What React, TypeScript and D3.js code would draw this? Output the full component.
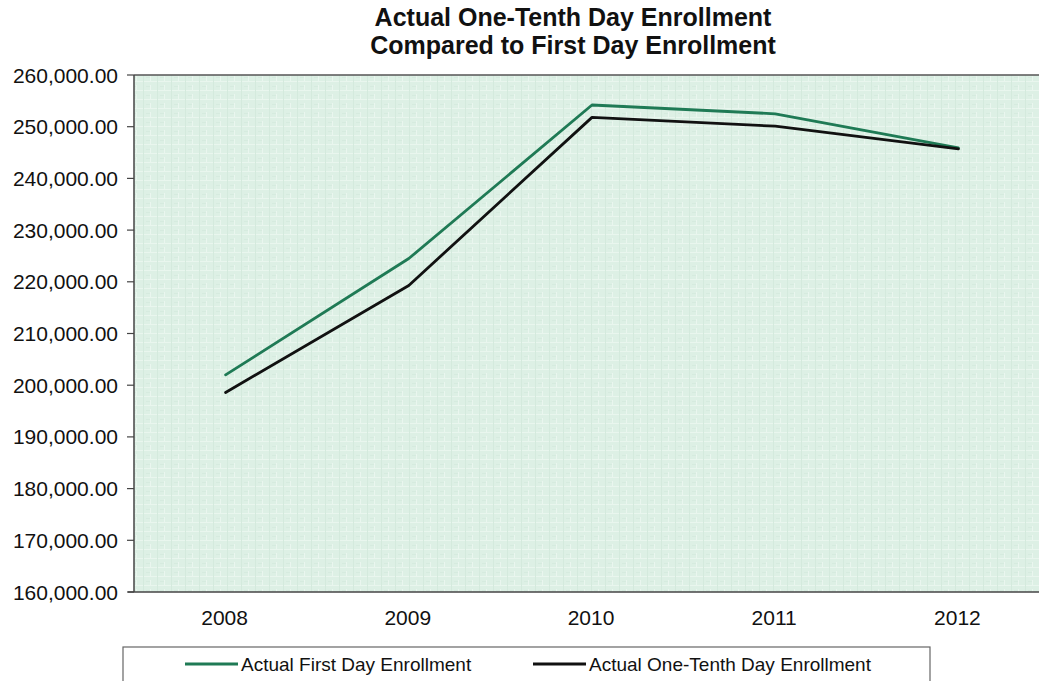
import React from "react";
import * as d3 from "d3";

const years = ["2008", "2009", "2010", "2011", "2012"];
const firstDay = [202000, 224500, 254200, 252500, 245900];
const oneTenthDay = [198600, 219300, 251800, 250100, 245700];
const yTicks = [160000, 170000, 180000, 190000, 200000, 210000, 220000, 230000, 240000, 250000, 260000];
const seriesNames = ["Actual First Day Enrollment", "Actual One-Tenth Day Enrollment"];
const seriesColors = ["#1f7a55", "#111111"];

const W = 1039;
const H = 681;
const plot = { left: 134, right: 1050, top: 75, bottom: 592 };

export default function App() {
  const x = d3.scaleBand<string>().domain(years).range([plot.left, plot.right]).paddingInner(0).paddingOuter(0);
  const xc = (d: string) => (x(d) as number) + x.bandwidth() / 2;
  const y = d3.scaleLinear().domain([160000, 260000]).range([plot.bottom, plot.top]);
  const fmt = d3.format(",.2f");
  const line = d3
    .line<number>()
    .x((_, i) => xc(years[i]))
    .y((v) => y(v));
  const series = [firstDay, oneTenthDay];
  const font = "Arial, 'Liberation Sans', Helvetica, sans-serif";

  return (
    <svg
      width={W}
      height={H}
      style={{ position: "absolute", left: 0, top: 0, background: "#ffffff" }}
      fontFamily={font}
    >
      <defs>
        <pattern id="tex" width="14" height="9" patternUnits="userSpaceOnUse">
          <rect width="14" height="9" fill="#ddf0e5" />
          <rect x="0" y="0" width="14" height="1" fill="#e9f6ee" />
          <rect x="3" y="0" width="1" height="9" fill="#d4eadd" />
          <rect x="10" y="4" width="1" height="5" fill="#eaf6ef" />
          <rect x="6" y="5" width="4" height="1" fill="#d6ebdf" />
        </pattern>
      </defs>
      <rect width={W} height={H} fill="#ffffff" />
      <text x={573} y={26} textAnchor="middle" fontSize={25} fontWeight="bold" fill="#111">
        Actual One-Tenth Day Enrollment
      </text>
      <text x={573} y={54} textAnchor="middle" fontSize={25} fontWeight="bold" fill="#111">
        Compared to First Day Enrollment
      </text>
      <rect
        x={plot.left}
        y={plot.top}
        width={plot.right - plot.left}
        height={plot.bottom - plot.top}
        fill="url(#tex)"
      />
      <line x1={plot.left} x2={plot.right} y1={plot.top} y2={plot.top} stroke="#555" strokeWidth={1.5} />
      <line x1={plot.left} x2={plot.left} y1={plot.top} y2={plot.bottom} stroke="#444" strokeWidth={1.5} />
      <line x1={plot.left - 6} x2={plot.right} y1={plot.bottom} y2={plot.bottom} stroke="#444" strokeWidth={1.5} />
      {yTicks.map((t) => (
        <g key={t}>
          <line x1={plot.left - 7} x2={plot.left} y1={y(t)} y2={y(t)} stroke="#444" strokeWidth={1.2} />
          <text x={118} y={y(t) + 7.5} textAnchor="end" fontSize={21} fill="#111">
            {fmt(t)}
          </text>
        </g>
      ))}
      {years.map((yr) => (
        <text key={yr} x={xc(yr) - 1} y={625} textAnchor="middle" fontSize={21} fill="#111">
          {yr}
        </text>
      ))}
      {series.map((s, i) => (
        <path
          key={i}
          d={line(s) as string}
          fill="none"
          stroke={seriesColors[i]}
          strokeWidth={2.8}
          strokeLinejoin="round"
          strokeLinecap="round"
        />
      ))}
      <rect x={123} y={647} width={807} height={60} fill="#ffffff" stroke="#666" strokeWidth={1.2} />
      {seriesNames.map((n, i) => {
        const lx = i === 0 ? 185 : 533;
        return (
          <g key={n}>
            <line x1={lx} x2={lx + 53} y1={664} y2={664} stroke={seriesColors[i]} strokeWidth={2.8} />
            <text x={lx + 56} y={671} fontSize={19} fill="#111">
              {n}
            </text>
          </g>
        );
      })}
    </svg>
  );
}
